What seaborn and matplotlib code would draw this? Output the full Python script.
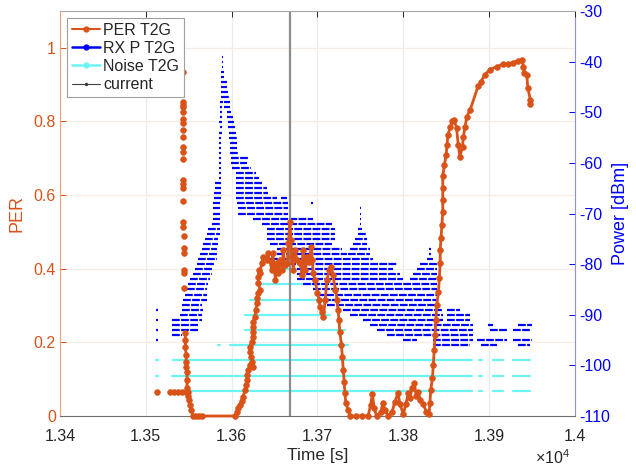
import matplotlib
matplotlib.use("Agg")
import matplotlib.pyplot as plt
from matplotlib.lines import Line2D
from matplotlib.transforms import blended_transform_factory
import pandas as pd
import seaborn as sns

ORANGE = "#D95319"
BLUE = "#0000FF"
CYAN = "#6CF4F4"
CURRENT_GRAY = "#8C8C8C"

# PER of the T2G link, one entry per contiguous stretch of logged samples: (time [s], PER)
per_runs = [
    ([13513], [0.065]),
    ([13543], [0.935]),
    ([13543, 13543, 13543, 13543], [0.854, 0.846, 0.838, 0.827]),
    ([13543, 13543], [0.808, 0.797]),
    ([13543], [0.778]),
    ([13543], [0.759]),
    ([13543, 13543], [0.732, 0.718]),
    ([13543], [0.699]),
    ([13543, 13543, 13543], [0.642, 0.631, 0.620]),
    ([13543], [0.585]),
    ([13543, 13543], [0.528, 0.514]),
    ([13545], [0.490]),
    ([13545, 13545], [0.457, 0.443]),
    ([13545, 13545], [0.397, 0.389]),
    ([13545], [0.348]),
    ([13528, 13533, 13538, 13542, 13547], [0.065, 0.065, 0.065, 0.065, 0.065]),
    ([13546, 13546, 13546, 13547, 13547, 13547, 13548, 13548, 13548, 13549,
      13549, 13550, 13552, 13553, 13555, 13559, 13562, 13566, 13604, 13606,
      13607, 13610, 13612, 13613, 13616, 13617, 13618, 13618, 13619, 13621,
      13624, 13625, 13623, 13621, 13621, 13624, 13625, 13625, 13625, 13625,
      13627, 13628, 13630, 13630, 13631, 13633, 13631, 13631, 13632, 13633,
      13635, 13637, 13641, 13642, 13647, 13648, 13651, 13653, 13654, 13656,
      13659, 13660, 13662, 13665, 13666, 13668, 13669, 13670, 13672, 13674,
      13676, 13680, 13682, 13683, 13686, 13688, 13690, 13693, 13694, 13695,
      13697, 13700, 13702, 13703, 13705, 13707, 13709, 13711, 13714, 13716,
      13718, 13721, 13723, 13724, 13725, 13726, 13728, 13729, 13730, 13731,
      13732, 13733, 13736, 13738, 13745, 13752, 13759, 13762, 13764, 13766,
      13769, 13774, 13776, 13779, 13782, 13787, 13790, 13794, 13796, 13800,
      13803, 13806, 13808, 13810, 13813, 13815, 13817, 13820, 13823, 13827,
      13830, 13831, 13832, 13834, 13835, 13836, 13837, 13838, 13839, 13841,
      13842, 13843, 13843, 13844, 13845, 13846, 13846, 13846, 13846, 13848,
      13850, 13851, 13852, 13855, 13857, 13859, 13862, 13864, 13866, 13869,
      13870, 13872, 13874, 13878, 13887, 13890, 13895, 13901, 13909, 13916,
      13922, 13928, 13934, 13938, 13940, 13941, 13944, 13945, 13948, 13948],
     [0.226, 0.207, 0.188, 0.166, 0.147, 0.133, 0.120, 0.098, 0.076, 0.065,
      0.054, 0.044, 0.030, 0.016, 0.0, 0.0, 0.0, 0.0, 0.0, 0.011,
      0.022, 0.030, 0.041, 0.052, 0.071, 0.084, 0.098, 0.112, 0.125, 0.139,
      0.147, 0.133, 0.160, 0.174, 0.188, 0.201, 0.215, 0.228, 0.242, 0.256,
      0.269, 0.288, 0.307, 0.321, 0.335, 0.343, 0.362, 0.378, 0.397, 0.389,
      0.416, 0.432, 0.424, 0.443, 0.397, 0.443, 0.370, 0.416, 0.389, 0.424,
      0.397, 0.451, 0.411, 0.416, 0.470, 0.528, 0.479, 0.432, 0.397, 0.451,
      0.424, 0.416, 0.383, 0.451, 0.397, 0.432, 0.419, 0.460, 0.424, 0.389,
      0.370, 0.335, 0.315, 0.296, 0.283, 0.269, 0.315, 0.370, 0.397, 0.405,
      0.383, 0.343, 0.315, 0.288, 0.261, 0.228, 0.193, 0.160, 0.125, 0.092,
      0.063, 0.035, 0.016, 0.0, 0.0, 0.0, 0.0, 0.030, 0.060, 0.022,
      0.0, 0.011, 0.035, 0.016, 0.0, 0.011, 0.038, 0.063, 0.033, 0.005,
      0.033, 0.063, 0.049, 0.076, 0.090, 0.054, 0.065, 0.044, 0.033, 0.011,
      0.005, 0.035, 0.071, 0.103, 0.139, 0.179, 0.220, 0.261, 0.302, 0.337,
      0.375, 0.416, 0.451, 0.484, 0.519, 0.555, 0.587, 0.620, 0.653, 0.683,
      0.710, 0.737, 0.764, 0.786, 0.800, 0.805, 0.783, 0.737, 0.704, 0.732,
      0.759, 0.786, 0.813, 0.832, 0.895, 0.906, 0.927, 0.941, 0.949, 0.955,
      0.957, 0.960, 0.965, 0.968, 0.949, 0.933, 0.925, 0.892, 0.859, 0.848]),
]

# Received power, quantised to 1 dBm: (level [dBm], first sample [s], last sample [s])
rx_rows = [
    (-39, 13589, 13590), (-40, 13589, 13590), (-41, 13589, 13590),
    (-42, 13588, 13591), (-43, 13588, 13591), (-44, 13588, 13595),
    (-45, 13588, 13595), (-46, 13588, 13596), (-47, 13588, 13597),
    (-48, 13586, 13590), (-48, 13591, 13598),
    (-49, 13586, 13589), (-49, 13591, 13598),
    (-50, 13586, 13589), (-50, 13595, 13599),
    (-51, 13586, 13589), (-51, 13595, 13602),
    (-52, 13585, 13589), (-52, 13596, 13603),
    (-53, 13586, 13589), (-53, 13596, 13604),
    (-54, 13585, 13589), (-54, 13597, 13605),
    (-55, 13585, 13588), (-55, 13597, 13606),
    (-56, 13585, 13588), (-56, 13598, 13606),
    (-57, 13585, 13588), (-57, 13598, 13606),
    (-58, 13585, 13588), (-58, 13598, 13607),
    (-59, 13585, 13588), (-59, 13599, 13620),
    (-60, 13585, 13588), (-60, 13599, 13618),
    (-61, 13585, 13588), (-61, 13600, 13623),
    (-62, 13585, 13588), (-62, 13605, 13628),
    (-63, 13585, 13588), (-63, 13605, 13632),
    (-64, 13581, 13588), (-64, 13605, 13637),
    (-65, 13581, 13588), (-65, 13605, 13641),
    (-66, 13579, 13588), (-66, 13605, 13642),
    (-67, 13579, 13588), (-67, 13605, 13653), (-67, 13658, 13665),
    (-68, 13578, 13586), (-68, 13606, 13666), (-68, 13693, 13695),
    (-69, 13578, 13586), (-69, 13607, 13666), (-69, 13749, 13751),
    (-70, 13578, 13586), (-70, 13607, 13666), (-70, 13749, 13751),
    (-71, 13578, 13586), (-71, 13625, 13695), (-71, 13749, 13751),
    (-72, 13577, 13586), (-72, 13635, 13717), (-72, 13749, 13751),
    (-73, 13572, 13586), (-73, 13641, 13721), (-73, 13747, 13752),
    (-74, 13571, 13586), (-74, 13641, 13721), (-74, 13747, 13756),
    (-75, 13569, 13584), (-75, 13641, 13721), (-75, 13744, 13758),
    (-76, 13567, 13584), (-76, 13645, 13717), (-76, 13741, 13758),
    (-77, 13566, 13583), (-77, 13653, 13729), (-77, 13738, 13761), (-77, 13830, 13832),
    (-78, 13563, 13584), (-78, 13653, 13734), (-78, 13736, 13761), (-78, 13830, 13832),
    (-79, 13561, 13583), (-79, 13645, 13765), (-79, 13828, 13835),
    (-80, 13560, 13581), (-80, 13645, 13793), (-80, 13820, 13839),
    (-81, 13557, 13578), (-81, 13676, 13788), (-81, 13816, 13839),
    (-82, 13555, 13577), (-82, 13676, 13796), (-82, 13811, 13839),
    (-83, 13552, 13575), (-83, 13676, 13800), (-83, 13808, 13839),
    (-84, 13549, 13572), (-84, 13683, 13839),
    (-85, 13548, 13571), (-85, 13695, 13839),
    (-86, 13546, 13571), (-86, 13700, 13839),
    (-87, 13543, 13571), (-87, 13707, 13839),
    (-88, 13542, 13566), (-88, 13711, 13839),
    (-89, 13512, 13514), (-89, 13542, 13567), (-89, 13730, 13845), (-89, 13851, 13866),
    (-90, 13540, 13566), (-90, 13738, 13846), (-90, 13851, 13878),
    (-91, 13512, 13514), (-91, 13531, 13566), (-91, 13753, 13846), (-91, 13851, 13878),
    (-92, 13531, 13561), (-92, 13761, 13881), (-92, 13899, 13905), (-92, 13934, 13950),
    (-93, 13512, 13514), (-93, 13531, 13561), (-93, 13769, 13881), (-93, 13901, 13921),
    (-93, 13928, 13948),
    (-94, 13531, 13542), (-94, 13781, 13881),
    (-95, 13512, 13514), (-95, 13800, 13816), (-95, 13835, 13881), (-95, 13886, 13921),
    (-95, 13928, 13950),
    (-96, 13835, 13878), (-96, 13890, 13909), (-96, 13934, 13948),
]

# Noise floor, reported in 3 dBm steps: (level [dBm], first sample [s], last sample [s])
noise_rows = [
    (-81, 13650, 13675),
    (-84, 13631, 13703),
    (-87, 13621, 13732),
    (-90, 13616, 13715),
    (-93, 13616, 13732),
    (-96, 13584, 13586), (-96, 13598, 13736),
    (-99, 13512, 13514), (-99, 13532, 13880), (-99, 13888, 13892), (-99, 13905, 13916),
    (-99, 13928, 13948),
    (-102, 13512, 13514), (-102, 13530, 13880), (-102, 13888, 13892), (-102, 13905, 13916),
    (-102, 13928, 13948),
    (-105, 13528, 13880), (-105, 13888, 13892), (-105, 13905, 13916), (-105, 13928, 13948),
]

current_time = 13668

time_ticks = [13400, 13500, 13600, 13700, 13800, 13900, 14000]
time_tick_labels = ["1.34", "1.35", "1.36", "1.37", "1.38", "1.39", "1.4"]
per_ticks = [0, 0.2, 0.4, 0.6, 0.8, 1.0]
per_tick_labels = ["0", "0.2", "0.4", "0.6", "0.8", "1"]
power_ticks = [-110, -100, -90, -80, -70, -60, -50, -40, -30]


def rows_frame(rows):
    recs = []
    for i, (lvl, t0, t1) in enumerate(rows):
        recs.append({"t": t0, "power": lvl, "seg": i})
        recs.append({"t": t1, "power": lvl, "seg": i})
    return pd.DataFrame(recs)


per_df = pd.concat(
    [pd.DataFrame({"t": t, "per": v, "run": i}) for i, (t, v) in enumerate(per_runs)],
    ignore_index=True,
)
rx_df = rows_frame(rx_rows)
noise_df = rows_frame(noise_rows)

sns.set_theme(style="white")
plt.rcParams["font.family"] = ["Liberation Sans", "DejaVu Sans"]
plt.rcParams["mathtext.fontset"] = "custom"
plt.rcParams["mathtext.rm"] = "Liberation Sans"
plt.rcParams["mathtext.it"] = "Liberation Sans:italic"

fig = plt.figure(figsize=(6.36, 4.67), dpi=100)
ax = fig.add_axes([0.0943, 0.1092, 0.8097, 0.8672])
ax2 = ax.twinx()

# grid drawn underneath every data series
ax2.grid(False)
ax.grid(False)
for xt in time_ticks[1:-1]:
    ax2.axvline(xt, color="#EBEBEB", lw=0.9, zorder=0)
ytrans = blended_transform_factory(ax2.transAxes, ax.transData)
for yt in per_ticks[1:]:
    ax2.plot([0, 1], [yt, yt], transform=ytrans, color="#F4ECE6", lw=0.9, zorder=0)

# received power and noise on the right axis
sns.lineplot(data=noise_df, x="t", y="power", units="seg", estimator=None, sort=False,
             color=CYAN, lw=1.6, ax=ax2, zorder=2)
sns.lineplot(data=rx_df, x="t", y="power", units="seg", estimator=None, sort=False,
             color=BLUE, lw=1.6, ax=ax2, zorder=3)
for ln in ax2.lines[-len(rx_rows):]:
    ln.set_linestyle((0, (3.5, 0.6)))
    ln.set_dash_capstyle("butt")
    ln.set_solid_capstyle("butt")

# PER and the current-time marker on the left axis
ax.axvline(current_time, color=CURRENT_GRAY, lw=1.6, zorder=1)
sns.lineplot(data=per_df, x="t", y="per", units="run", estimator=None, sort=False,
             color=ORANGE, lw=2.0, marker="o", markersize=4.2,
             markeredgecolor=ORANGE, markeredgewidth=0.4, ax=ax, zorder=3, clip_on=False)

ax.set_zorder(ax2.get_zorder() + 1)
ax.patch.set_visible(False)

ax.set_xlim(13400, 14000)
ax.set_ylim(0, 1.1)
ax2.set_ylim(-110, -30)

ax.set_xticks(time_ticks)
ax.set_xticklabels(time_tick_labels)
ax.set_yticks(per_ticks)
ax.set_yticklabels(per_tick_labels)
ax2.set_yticks(power_ticks)
ax2.set_yticklabels([str(p) for p in power_ticks])

ax.tick_params(axis="x", direction="in", length=4, width=0.7, colors="#262626",
               labelsize=11.5, top=True, pad=9)
ax.tick_params(axis="y", direction="in", length=4, width=0.7, colors=ORANGE,
               labelsize=11.5, pad=3)
ax2.tick_params(axis="y", direction="in", length=4, width=0.7, colors=BLUE,
                labelsize=11.5, pad=3)

ax.set_xlabel("Time [s]", fontsize=12.5, color="#262626", labelpad=3)
ax.set_ylabel("PER", fontsize=13, color=ORANGE, labelpad=6)
ax2.set_ylabel("Power [dBm]", fontsize=13, color=BLUE, labelpad=1)

for side in ("left", "top", "bottom", "right"):
    ax2.spines[side].set_visible(False)
ax.spines["right"].set_visible(False)
ax2.spines["right"].set_visible(True)
ax2.spines["right"].set_color("#8C8CFF")
ax2.spines["right"].set_linewidth(0.8)
ax.spines["left"].set_color("#E9A07D")
ax.spines["left"].set_linewidth(0.8)
ax.spines["bottom"].set_color("#6E6E6E")
ax.spines["bottom"].set_linewidth(0.8)
ax.spines["top"].set_color("#A8A8A8")
ax.spines["top"].set_linewidth(0.8)

fig.text(0.897, 0.0, r"$\times10^{4}$", ha="right", va="bottom", fontsize=11.5,
         color="#262626")

handles = [
    Line2D([], [], color=ORANGE, lw=1.5, marker="o", ms=3.5, mec=ORANGE),
    Line2D([], [], color=BLUE, lw=1.8, marker="o", ms=3.5, mec=BLUE),
    Line2D([], [], color=CYAN, lw=1.8, marker="o", ms=3.5, mec=CYAN),
    Line2D([], [], color="#404040", lw=0.8, marker="o", ms=1.5, mec="#404040"),
]
labels = ["PER T2G", "RX P T2G", "Noise T2G", "current"]
leg = ax.legend(handles, labels, loc="upper left", bbox_to_anchor=(0.0136, 0.983),
                borderaxespad=0, fontsize=11.5, frameon=True, fancybox=False,
                edgecolor="#A0A0A0", framealpha=1, borderpad=0.3,
                labelspacing=0.2, handlelength=1.75, handletextpad=0.2)
leg.get_frame().set_linewidth(0.8)
leg.set_zorder(10)

fig.savefig("out.png", dpi=100)
